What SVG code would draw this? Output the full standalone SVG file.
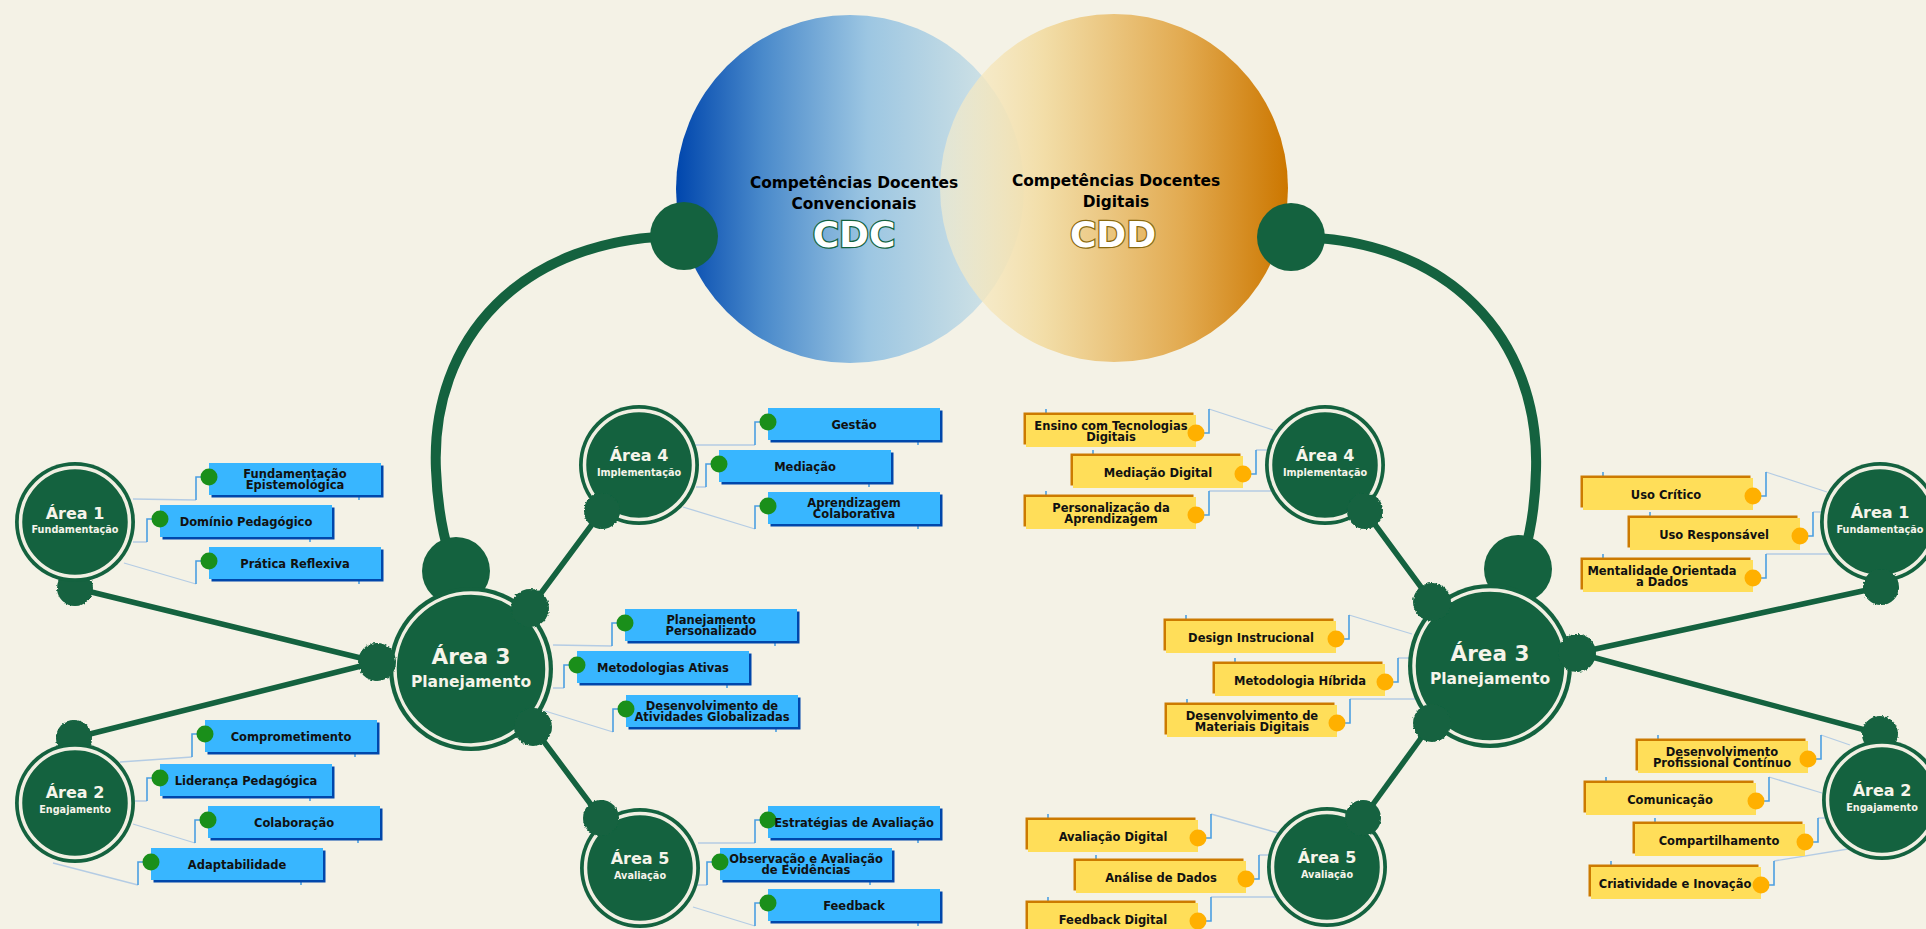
<svg xmlns="http://www.w3.org/2000/svg" width="1926" height="929" viewBox="0 0 1926 929">
<defs>
<linearGradient id="gBlue" x1="0" y1="0" x2="1" y2="0">
<stop offset="0" stop-color="#0046ad"/><stop offset="0.25" stop-color="#4a8acb"/><stop offset="0.55" stop-color="#9cc6e2"/><stop offset="1" stop-color="#dde9e6"/>
</linearGradient>
<linearGradient id="gGold" x1="0" y1="0" x2="1" y2="0">
<stop offset="0" stop-color="#f9efcf" stop-opacity="0.6"/><stop offset="0.3" stop-color="#f2dca4" stop-opacity="0.95"/><stop offset="0.7" stop-color="#e2aa50"/><stop offset="1" stop-color="#cc7700"/>
</linearGradient>
<filter id="rough" x="-30%" y="-30%" width="160%" height="160%">
<feTurbulence type="fractalNoise" baseFrequency="0.5" numOctaves="2" seed="3" result="n"/>
<feDisplacementMap in="SourceGraphic" in2="n" scale="3" xChannelSelector="R" yChannelSelector="G"/>
</filter>
<style>
.bg{fill:#f4f2e6}
.arc{fill:none;stroke:#14623f;stroke-width:10;stroke-linecap:round}
.link{fill:none;stroke:#14623f;stroke-width:5.5;stroke-linecap:round}
.faint{fill:none;stroke:#b4cce4;stroke-width:1.3}
.brk{fill:none;stroke:#4b9fe1;stroke-width:1.6}
.dk{fill:#14623f}
.ring{fill:none;stroke:#f1efe2;stroke-width:3.5}
.bub{fill:#14623f;filter:url(#rough)}
.t-area{font-family:"DejaVu Sans",Verdana,sans-serif;font-weight:bold;fill:#f6f4ea;text-anchor:middle}
.bbox{fill:#38b6ff}
.bsh{fill:#0047ab}
.gdot{fill:#1a8f1a}
.ybox{fill:#ffde59}
.ysh{fill:#cc7a00}
.odot{fill:#ffb000}
.bt{font-family:"DejaVu Sans",Verdana,sans-serif;font-weight:bold;font-size:11.5px;fill:#111;text-anchor:middle}
.title{font-family:"DejaVu Sans",Verdana,sans-serif;font-weight:bold;font-size:15.4px;fill:#000;text-anchor:middle}
.big{font-family:"DejaVu Sans",Verdana,sans-serif;font-weight:bold;font-size:36px;fill:#fff;text-anchor:middle;stroke-width:2.5;paint-order:stroke}
</style>
</defs>
<rect class="bg" x="0" y="0" width="1926" height="929"/>

<g id="connectors">
<path class="arc" d="M684,236 C520,236 430,340 436,470 C438,520 448,555 456,571"/>
<path class="arc" d="M1291,237 C1450,237 1540,340 1536,470 C1535,520 1525,555 1518,569"/>
<path class="link" d="M75,588 L377,662"/>
<path class="link" d="M74,738 L377,662"/>
<path class="link" d="M602,511 L530,608"/>
<path class="link" d="M533,727 L601,818"/>
<path class="link" d="M1365,511 L1432,602"/>
<path class="link" d="M1432,723 L1363,818"/>
<path class="link" d="M1577,653 L1881,587"/>
<path class="link" d="M1577,653 L1880,734"/>
<path class="faint" d="M133,499 L196,500 M133,542 L147,542 M124,563 L196,584"/>
<path class="faint" d="M120,762 L192,757 M128,801 L147,801 M133,824 L195,843 M53,863 L138,885"/>
<path class="faint" d="M695,445 L755,445 M696,487 L706,487 M683,507 L755,529"/>
<path class="faint" d="M553,645 L612,646 M553,688 L564,688 M545,711 L613,732"/>
<path class="faint" d="M698,843 L755,843 M697,885 L707,885 M693,907 L755,926"/>
<path class="faint" d="M1209,409 L1273,430 M1256,450 L1273,450 M1209,491 L1272,491"/>
<path class="faint" d="M1349,615 L1412,634 M1398,658 L1417,658 M1350,699 L1423,699"/>
<path class="faint" d="M1211,814 L1278,833 M1259,855 L1283,855 M1211,897 L1283,897"/>
<path class="faint" d="M1766,472 L1827,492 M1813,512 L1822,512 M1766,554 L1835,554"/>
<path class="faint" d="M1821,735 L1850,745 M1769,777 L1822,793 M1818,818 L1837,818 M1774,861 L1848,849"/>
<path class="brk" d="M209,477 H196 V500 M359,495 V500 M160,519 H147 V542 M310,537 V542 M209,561 H196 V584 M359,579 V584"/>
<path class="brk" d="M205,734 H192 V757 M355,752 V757 M160,778 H147 V801 M310,796 V801 M208,820 H195 V843 M358,838 V843 M151,862 H138 V885 M301,880 V885"/>
<path class="brk" d="M768,422 H755 V445 M918,440 V445 M719,464 H706 V487 M869,482 V487 M768,506 H755 V529 M918,524 V529"/>
<path class="brk" d="M625,623 H612 V646 M775,641 V646 M577,665 H564 V688 M727,683 V688 M626,709 H613 V732 M776,727 V732"/>
<path class="brk" d="M768,820 H755 V843 M918,838 V843 M720,862 H707 V885 M870,880 V885 M768,903 H755 V926 M918,921 V926"/>
<path class="brk" d="M1196,433 H1209 V409 M1046,409 V415 M1243,474 H1256 V450 M1093,450 V456 M1196,515 H1209 V491 M1046,491 V497"/>
<path class="brk" d="M1336,639 H1349 V615 M1186,615 V621 M1385,682 H1398 V658 M1235,658 V664 M1337,723 H1350 V699 M1187,699 V705"/>
<path class="brk" d="M1198,838 H1211 V814 M1048,814 V820 M1246,879 H1259 V855 M1096,855 V861 M1198,921 H1211 V897 M1048,897 V903"/>
<path class="brk" d="M1753,496 H1766 V472 M1603,472 V478 M1800,536 H1813 V512 M1650,512 V518 M1753,578 H1766 V554 M1603,554 V560"/>
<path class="brk" d="M1808,759 H1821 V735 M1658,735 V741 M1756,801 H1769 V777 M1606,777 V783 M1805,842 H1818 V818 M1655,818 V824 M1761,885 H1774 V861 M1611,861 V867"/>
</g>

<g id="venn">
<circle cx="850" cy="189" r="174" fill="url(#gBlue)"/>
<circle cx="1114" cy="188" r="174" fill="url(#gGold)"/>
<text class="title" x="854" y="188">Competências Docentes</text>
<text class="title" x="854" y="209">Convencionais</text>
<text class="big" x="854" y="247" stroke="#14623f">CDC</text>
<text class="title" x="1116" y="186">Competências Docentes</text>
<text class="title" x="1116" y="207">Digitais</text>
<text class="big" x="1113" y="247" stroke="#8a6a10">CDD</text>
<circle class="dk" cx="684" cy="236" r="34"/>
<circle class="dk" cx="1291" cy="237" r="34"/>
</g>

<g id="area1-left">
<circle class="bub" cx="75" cy="588" r="18"/>
<circle class="dk" cx="75" cy="522" r="60"/><circle class="ring" cx="75" cy="522" r="54.5"/>
<text class="t-area" x="75" y="519" font-size="16">Área 1</text>
<text class="t-area" x="75" y="533" font-size="9.7">Fundamentação</text>
</g>
<g id="area2-left">
<circle class="bub" cx="74" cy="738" r="18"/>
<circle class="dk" cx="75" cy="803" r="60"/><circle class="ring" cx="75" cy="803" r="54.5"/>
<text class="t-area" x="75" y="798" font-size="16">Área 2</text>
<text class="t-area" x="75" y="813" font-size="9.7">Engajamento</text>
</g>
<g id="area4-left">
<circle class="dk" cx="639" cy="465" r="60"/><circle class="ring" cx="639" cy="465" r="54.5"/>
<circle class="bub" cx="602" cy="511" r="18"/>
<text class="t-area" x="639" y="461" font-size="16">Área 4</text>
<text class="t-area" x="639" y="476" font-size="9.7">Implementação</text>
</g>
<g id="area5-left">
<circle class="dk" cx="640" cy="868" r="60"/><circle class="ring" cx="640" cy="868" r="54.5"/>
<circle class="bub" cx="601" cy="818" r="18"/>
<text class="t-area" x="640" y="864" font-size="16">Área 5</text>
<text class="t-area" x="640" y="879" font-size="9.7">Avaliação</text>
</g>
<g id="area3-left">
<circle class="dk" cx="456" cy="571" r="34"/>
<circle class="dk" cx="471" cy="669" r="82"/><circle class="ring" cx="471" cy="669" r="76"/>
<circle class="bub" cx="530" cy="608" r="19"/>
<circle class="bub" cx="377" cy="662" r="19"/>
<circle class="bub" cx="533" cy="727" r="19"/>
<text class="t-area" x="471" y="664" font-size="21.5">Área 3</text>
<text class="t-area" x="471" y="687" font-size="15.5">Planejamento</text>
</g>

<g id="area4-right">
<circle class="dk" cx="1325" cy="465" r="60"/><circle class="ring" cx="1325" cy="465" r="54.5"/>
<circle class="bub" cx="1365" cy="511" r="18"/>
<text class="t-area" x="1325" y="461" font-size="16">Área 4</text>
<text class="t-area" x="1325" y="476" font-size="9.7">Implementação</text>
</g>
<g id="area5-right">
<circle class="dk" cx="1327" cy="867" r="60"/><circle class="ring" cx="1327" cy="867" r="54.5"/>
<circle class="bub" cx="1363" cy="818" r="18"/>
<text class="t-area" x="1327" y="863" font-size="16">Área 5</text>
<text class="t-area" x="1327" y="878" font-size="9.7">Avaliação</text>
</g>
<g id="area3-right">
<circle class="dk" cx="1518" cy="569" r="34"/>
<circle class="dk" cx="1490" cy="666" r="82"/><circle class="ring" cx="1490" cy="666" r="76"/>
<circle class="bub" cx="1432" cy="602" r="19"/>
<circle class="bub" cx="1577" cy="653" r="19"/>
<circle class="bub" cx="1432" cy="723" r="19"/>
<text class="t-area" x="1490" y="661" font-size="21.5">Área 3</text>
<text class="t-area" x="1490" y="684" font-size="15.5">Planejamento</text>
</g>
<g id="area1-right">
<circle class="dk" cx="1880" cy="522" r="60"/><circle class="ring" cx="1880" cy="522" r="54.5"/>
<circle class="bub" cx="1881" cy="587" r="18"/>
<text class="t-area" x="1880" y="518" font-size="16">Área 1</text>
<text class="t-area" x="1880" y="533" font-size="9.7">Fundamentação</text>
</g>
<g id="area2-right">
<circle class="bub" cx="1880" cy="734" r="18"/>
<circle class="dk" cx="1882" cy="800" r="60"/><circle class="ring" cx="1882" cy="800" r="54.5"/>
<text class="t-area" x="1882" y="796" font-size="16">Área 2</text>
<text class="t-area" x="1882" y="811" font-size="9.7">Engajamento</text>
</g>

<g id="n-fundamentacao-epistemologica"><rect class="bsh" x="211.5" y="465.5" width="172" height="32"/><rect class="bbox" x="209" y="463" width="172" height="32"/><circle class="gdot" cx="209" cy="477" r="8.5"/><text class="bt" x="295" y="477.5">Fundamentação</text><text class="bt" x="295" y="488.5">Epistemológica</text></g>
<g id="n-dominio-pedagogico"><rect class="bsh" x="162.5" y="507.5" width="172" height="32"/><rect class="bbox" x="160" y="505" width="172" height="32"/><circle class="gdot" cx="160" cy="519" r="8.5"/><text class="bt" x="246" y="525.5">Domínio Pedagógico</text></g>
<g id="n-pratica-reflexiva"><rect class="bsh" x="211.5" y="549.5" width="172" height="32"/><rect class="bbox" x="209" y="547" width="172" height="32"/><circle class="gdot" cx="209" cy="561" r="8.5"/><text class="bt" x="295" y="567.5">Prática Reflexiva</text></g>

<g id="n-comprometimento"><rect class="bsh" x="207.5" y="722.5" width="172" height="32"/><rect class="bbox" x="205" y="720" width="172" height="32"/><circle class="gdot" cx="205" cy="734" r="8.5"/><text class="bt" x="291" y="740.5">Comprometimento</text></g>
<g id="n-lideranca-pedagogica"><rect class="bsh" x="162.5" y="766.5" width="172" height="32"/><rect class="bbox" x="160" y="764" width="172" height="32"/><circle class="gdot" cx="160" cy="778" r="8.5"/><text class="bt" x="246" y="784.5">Liderança Pedagógica</text></g>
<g id="n-colaboracao"><rect class="bsh" x="210.5" y="808.5" width="172" height="32"/><rect class="bbox" x="208" y="806" width="172" height="32"/><circle class="gdot" cx="208" cy="820" r="8.5"/><text class="bt" x="294" y="826.5">Colaboração</text></g>
<g id="n-adaptabilidade"><rect class="bsh" x="153.5" y="850.5" width="172" height="32"/><rect class="bbox" x="151" y="848" width="172" height="32"/><circle class="gdot" cx="151" cy="862" r="8.5"/><text class="bt" x="237" y="868.5">Adaptabilidade</text></g>

<g id="n-gestao"><rect class="bsh" x="770.5" y="410.5" width="172" height="32"/><rect class="bbox" x="768" y="408" width="172" height="32"/><circle class="gdot" cx="768" cy="422" r="8.5"/><text class="bt" x="854" y="428.5">Gestão</text></g>
<g id="n-mediacao"><rect class="bsh" x="721.5" y="452.5" width="172" height="32"/><rect class="bbox" x="719" y="450" width="172" height="32"/><circle class="gdot" cx="719" cy="464" r="8.5"/><text class="bt" x="805" y="470.5">Mediação</text></g>
<g id="n-aprendizagem-colaborativa"><rect class="bsh" x="770.5" y="494.5" width="172" height="32"/><rect class="bbox" x="768" y="492" width="172" height="32"/><circle class="gdot" cx="768" cy="506" r="8.5"/><text class="bt" x="854" y="506.5">Aprendizagem</text><text class="bt" x="854" y="517.5">Colaborativa</text></g>

<g id="n-planejamento-personalizado"><rect class="bsh" x="627.5" y="611.5" width="172" height="32"/><rect class="bbox" x="625" y="609" width="172" height="32"/><circle class="gdot" cx="625" cy="623" r="8.5"/><text class="bt" x="711" y="623.5">Planejamento</text><text class="bt" x="711" y="634.5">Personalizado</text></g>
<g id="n-metodologias-ativas"><rect class="bsh" x="579.5" y="653.5" width="172" height="32"/><rect class="bbox" x="577" y="651" width="172" height="32"/><circle class="gdot" cx="577" cy="665" r="8.5"/><text class="bt" x="663" y="671.5">Metodologias Ativas</text></g>
<g id="n-atividades-globalizadas"><rect class="bsh" x="628.5" y="697.5" width="172" height="32"/><rect class="bbox" x="626" y="695" width="172" height="32"/><circle class="gdot" cx="626" cy="709" r="8.5"/><text class="bt" x="712" y="709.5">Desenvolvimento de</text><text class="bt" x="712" y="720.5">Atividades Globalizadas</text></g>

<g id="n-estrategias-avaliacao"><rect class="bsh" x="770.5" y="808.5" width="172" height="32"/><rect class="bbox" x="768" y="806" width="172" height="32"/><circle class="gdot" cx="768" cy="820" r="8.5"/><text class="bt" x="854" y="826.5">Estratégias de Avaliação</text></g>
<g id="n-observacao-evidencias"><rect class="bsh" x="722.5" y="850.5" width="172" height="32"/><rect class="bbox" x="720" y="848" width="172" height="32"/><circle class="gdot" cx="720" cy="862" r="8.5"/><text class="bt" x="806" y="862.5">Observação e Avaliação</text><text class="bt" x="806" y="873.5">de Evidências</text></g>
<g id="n-feedback"><rect class="bsh" x="770.5" y="891.5" width="172" height="32"/><rect class="bbox" x="768" y="889" width="172" height="32"/><circle class="gdot" cx="768" cy="903" r="8.5"/><text class="bt" x="854" y="909.5">Feedback</text></g>

<g id="n-ensino-tecnologias"><rect class="ysh" x="1023.5" y="412.5" width="170" height="32"/><rect class="ybox" x="1026" y="415" width="170" height="32"/><circle class="odot" cx="1196" cy="433" r="8.5"/><text class="bt" x="1111" y="430">Ensino com Tecnologias</text><text class="bt" x="1111" y="441">Digitais</text></g>
<g id="n-mediacao-digital"><rect class="ysh" x="1070.5" y="453.5" width="170" height="32"/><rect class="ybox" x="1073" y="456" width="170" height="32"/><circle class="odot" cx="1243" cy="474" r="8.5"/><text class="bt" x="1158" y="476.5">Mediação Digital</text></g>
<g id="n-personalizacao"><rect class="ysh" x="1023.5" y="494.5" width="170" height="32"/><rect class="ybox" x="1026" y="497" width="170" height="32"/><circle class="odot" cx="1196" cy="515" r="8.5"/><text class="bt" x="1111" y="512">Personalização da</text><text class="bt" x="1111" y="523">Aprendizagem</text></g>

<g id="n-design-instrucional"><rect class="ysh" x="1163.5" y="618.5" width="170" height="32"/><rect class="ybox" x="1166" y="621" width="170" height="32"/><circle class="odot" cx="1336" cy="639" r="8.5"/><text class="bt" x="1251" y="641.5">Design Instrucional</text></g>
<g id="n-metodologia-hibrida"><rect class="ysh" x="1212.5" y="661.5" width="170" height="32"/><rect class="ybox" x="1215" y="664" width="170" height="32"/><circle class="odot" cx="1385" cy="682" r="8.5"/><text class="bt" x="1300" y="684.5">Metodologia Híbrida</text></g>
<g id="n-materiais-digitais"><rect class="ysh" x="1164.5" y="702.5" width="170" height="32"/><rect class="ybox" x="1167" y="705" width="170" height="32"/><circle class="odot" cx="1337" cy="723" r="8.5"/><text class="bt" x="1252" y="720">Desenvolvimento de</text><text class="bt" x="1252" y="731">Materiais Digitais</text></g>

<g id="n-avaliacao-digital"><rect class="ysh" x="1025.5" y="817.5" width="170" height="32"/><rect class="ybox" x="1028" y="820" width="170" height="32"/><circle class="odot" cx="1198" cy="838" r="8.5"/><text class="bt" x="1113" y="840.5">Avaliação Digital</text></g>
<g id="n-analise-dados"><rect class="ysh" x="1073.5" y="858.5" width="170" height="32"/><rect class="ybox" x="1076" y="861" width="170" height="32"/><circle class="odot" cx="1246" cy="879" r="8.5"/><text class="bt" x="1161" y="881.5">Análise de Dados</text></g>
<g id="n-feedback-digital"><rect class="ysh" x="1025.5" y="900.5" width="170" height="32"/><rect class="ybox" x="1028" y="903" width="170" height="32"/><circle class="odot" cx="1198" cy="921" r="8.5"/><text class="bt" x="1113" y="923.5">Feedback Digital</text></g>

<g id="n-uso-critico"><rect class="ysh" x="1580.5" y="475.5" width="170" height="32"/><rect class="ybox" x="1583" y="478" width="170" height="32"/><circle class="odot" cx="1753" cy="496" r="8.5"/><text class="bt" x="1666" y="498.5">Uso Crítico</text></g>
<g id="n-uso-responsavel"><rect class="ysh" x="1627.5" y="515.5" width="170" height="32"/><rect class="ybox" x="1630" y="518" width="170" height="32"/><circle class="odot" cx="1800" cy="536" r="8.5"/><text class="bt" x="1714" y="538.5">Uso Responsável</text></g>
<g id="n-mentalidade-dados"><rect class="ysh" x="1580.5" y="557.5" width="170" height="32"/><rect class="ybox" x="1583" y="560" width="170" height="32"/><circle class="odot" cx="1753" cy="578" r="8.5"/><text class="bt" x="1662" y="575">Mentalidade Orientada</text><text class="bt" x="1662" y="586">a Dados</text></g>

<g id="n-desenvolvimento-profissional"><rect class="ysh" x="1635.5" y="738.5" width="170" height="32"/><rect class="ybox" x="1638" y="741" width="170" height="32"/><circle class="odot" cx="1808" cy="759" r="8.5"/><text class="bt" x="1722" y="756">Desenvolvimento</text><text class="bt" x="1722" y="767">Profissional Contínuo</text></g>
<g id="n-comunicacao"><rect class="ysh" x="1583.5" y="780.5" width="170" height="32"/><rect class="ybox" x="1586" y="783" width="170" height="32"/><circle class="odot" cx="1756" cy="801" r="8.5"/><text class="bt" x="1670" y="803.5">Comunicação</text></g>
<g id="n-compartilhamento"><rect class="ysh" x="1632.5" y="821.5" width="170" height="32"/><rect class="ybox" x="1635" y="824" width="170" height="32"/><circle class="odot" cx="1805" cy="842" r="8.5"/><text class="bt" x="1719" y="844.5">Compartilhamento</text></g>
<g id="n-criatividade-inovacao"><rect class="ysh" x="1588.5" y="864.5" width="170" height="32"/><rect class="ybox" x="1591" y="867" width="170" height="32"/><circle class="odot" cx="1761" cy="885" r="8.5"/><text class="bt" x="1675" y="887.5">Criatividade e Inovação</text></g>
</svg>
